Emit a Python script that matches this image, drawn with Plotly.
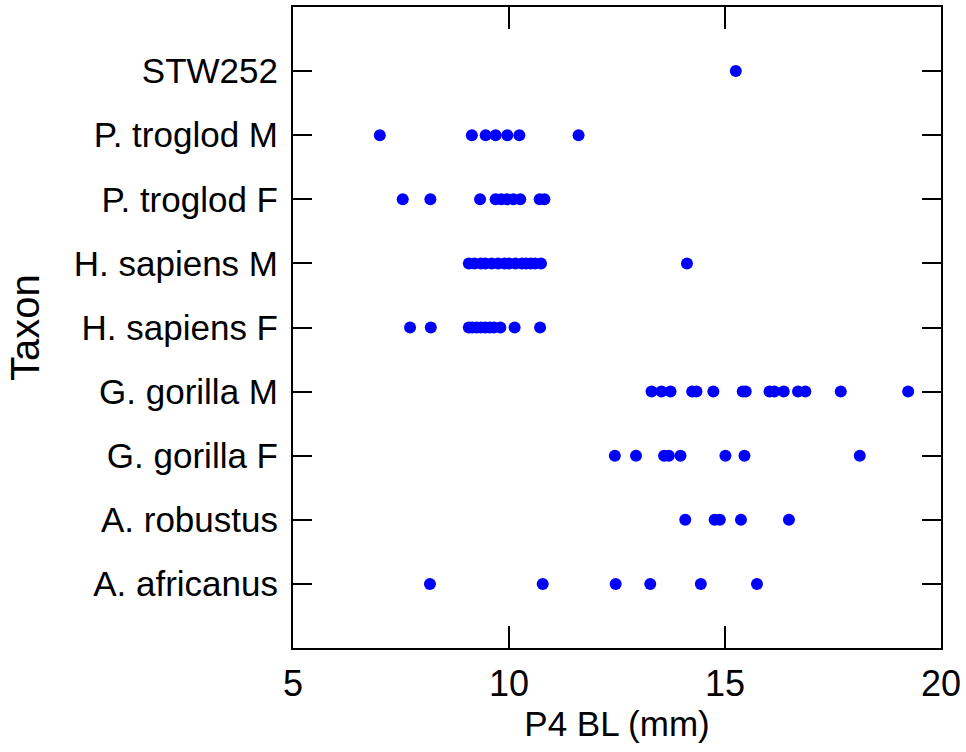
import plotly.graph_objects as go

categories = ["A. africanus", "A. robustus", "G. gorilla F", "G. gorilla M",
              "H. sapiens F", "H. sapiens M", "P. troglod F", "P. troglod M", "STW252"]

a_africanus = [8.17, 10.78, 12.47, 13.27, 14.44, 15.74]
a_robustus = [14.08, 14.76, 14.88, 15.37, 16.48]
g_gorilla_f = [12.45, 12.94, 13.59, 13.70, 13.97, 15.01, 15.45, 18.12]
g_gorilla_m = [13.30, 13.53, 13.74, 14.24, 14.34, 14.73, 15.41, 15.48, 16.03,
               16.14, 16.36, 16.69, 16.86, 17.68, 19.24]
h_sapiens_f = [7.71, 8.19, 9.07, 9.15, 9.25, 9.35, 9.45, 9.55, 9.65, 9.80,
               10.13, 10.72]
h_sapiens_m = [9.07, 9.20, 9.35, 9.45, 9.60, 9.75, 9.90, 10.00, 10.15, 10.30,
               10.40, 10.50, 10.60, 10.74, 14.12]
p_troglod_f = [7.54, 8.18, 9.33, 9.69, 9.82, 9.95, 10.10, 10.26, 10.71, 10.82]
p_troglod_m = [7.01, 9.14, 9.46, 9.69, 9.96, 10.24, 11.61]
stw252 = [15.25]

series = [a_africanus, a_robustus, g_gorilla_f, g_gorilla_m, h_sapiens_f,
          h_sapiens_m, p_troglod_f, p_troglod_m, stw252]

xs, ys = [], []
for cat, vals in zip(categories, series):
    xs.extend(vals)
    ys.extend([cat] * len(vals))

fig = go.Figure(go.Scatter(
    x=xs, y=ys, mode="markers",
    marker=dict(color="#0000FF", size=12, line=dict(width=0)),
    showlegend=False,
))

font_family = "Liberation Sans, Arial, sans-serif"
fig.update_layout(
    width=966, height=752,
    margin=dict(l=293, r=23, t=5, b=104),
    paper_bgcolor="white", plot_bgcolor="white",
    font=dict(family=font_family, color="black"),
)
fig.update_xaxes(
    range=[5, 20], tickvals=[5, 10, 15, 20],
    ticks="inside", ticklen=22, tickwidth=2, tickcolor="black",
    showline=True, linewidth=2, linecolor="black", mirror="ticks",
    showgrid=False, zeroline=False,
    tickfont=dict(size=36), ticklabelstandoff=3,
    title=dict(text="P4 BL (mm)", font=dict(size=35), standoff=2),
)
fig.update_yaxes(
    type="category", categoryorder="array", categoryarray=categories,
    range=[-1, 9],
    ticks="inside", ticklen=19, tickwidth=2, tickcolor="black",
    showline=True, linewidth=2, linecolor="black", mirror="ticks",
    showgrid=False, zeroline=False,
    tickfont=dict(size=35), ticklabelstandoff=6,
    title=dict(text="Taxon", font=dict(size=40), standoff=22),
)

fig.write_html("out.html")
